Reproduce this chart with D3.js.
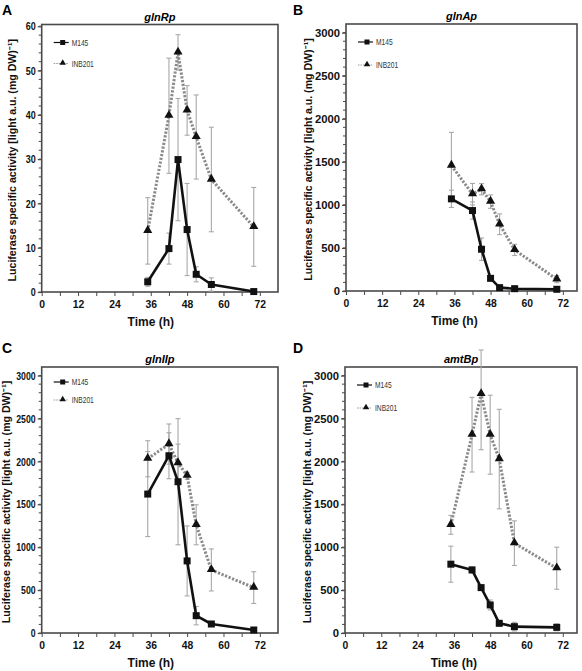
<!DOCTYPE html>
<html><head><meta charset="utf-8">
<script src="https://cdn.jsdelivr.net/npm/d3@7"></script>
<style>body{margin:0;background:#fff}svg{display:block}text{font-family:"Liberation Sans",Arial,sans-serif}</style>
</head><body><svg id="c" width="582" height="671"></svg>
<script>
const times = [35, 42, 45, 48, 51, 56, 70];
const xTicks = [0, 12, 24, 36, 48, 60, 72];
const panelLetters = ["A", "B", "C", "D"];
const panelTitles = ["glnRp", "glnAp", "glnIIp", "amtBp"];
const seriesNames = ["M145", "INB201"];
const yTicksA = [0, 10, 20, 30, 40, 50, 60];
const yTicksBCD = [0, 500, 1000, 1500, 2000, 2500, 3000];

// glnRp
const glnR_M145 = [2.3, 9.8, 29.9, 14.1, 4.0, 1.7, 0.1];
const glnR_M145_err = [1.0, 3.5, 13.8, 10.4, 1.7, 1.5, 0.3];
const glnR_INB = [13.8, 39.8, 54.1, 41.0, 35.0, 25.4, 14.7];
const glnR_INB_err = [7.5, 13.0, 4.0, 5.6, 9.5, 11.8, 8.9];
// glnAp
const glnA_M145 = [1070, 934, 485, 147, 39, 27, 20];
const glnA_M145_err = [100, 100, 130, 20, 15, 10, 10];
const glnA_INB = [1457, 1124, 1182, 1038, 775, 477, 136];
const glnA_INB_err = [385, 125, 65, 78, 120, 65, 40];
// glnIIp
const glnII_M145 = [1619, 2066, 1763, 840, 202, 105, 35];
const glnII_M145_err = [495, 268, 735, 408, 107, 15, 10];
const glnII_INB = [2031, 2202, 1981, 1833, 1261, 735, 529];
const glnII_INB_err = [210, 234, 220, 40, 233, 245, 185];
// amtBp
const amtB_M145 = [802, 735, 529, 327, 113, 74, 66];
const amtB_M145_err = [210, 35, 20, 58, 30, 50, 40];
const amtB_INB = [1261, 2311, 2786, 2311, 2027, 1047, 755];
const amtB_INB_err = [110, 435, 650, 460, 580, 260, 245];

const panels = [
  {left:41.7, top:24.5, right:278, bottom:292, xmax:78, ymax:60.4, yTicks:yTicksA, minor:2,
   m:glnR_M145, me:glnR_M145_err, i:glnR_INB, ie:glnR_INB_err, lg:[18,39], lx:0, ly:2, tx:26, ysq:0.78},
  {left:346, top:24, right:577, bottom:291, xmax:76.7, ymax:3100, yTicks:yTicksBCD, minor:100,
   m:glnA_M145, me:glnA_M145_err, i:glnA_INB, ie:glnA_INB_err, lg:[18,41], lx:291, ly:2, tx:34, ysq:0.98},
  {left:41.7, top:367, right:278, bottom:633, xmax:78, ymax:3100, yTicks:yTicksBCD, minor:100,
   m:glnII_M145, me:glnII_M145_err, i:glnII_INB, ie:glnII_INB_err, lg:[15,33], lx:0, ly:340, tx:32, ysq:0.76},
  {left:345, top:367, right:577, bottom:633, xmax:76.7, ymax:3100, yTicks:yTicksBCD, minor:100,
   m:amtB_M145, me:amtB_M145_err, i:amtB_INB, ie:amtB_INB_err, lg:[18,41], lx:291, ly:340, tx:34, ysq:0.98}
];

const svg = d3.select("#c");
const axisCol = "#4a4a4a";

function squeeze(sel, f) {
  sel.each(function () {
    const w = this.getComputedTextLength();
    if (w > 0) d3.select(this).attr("textLength", w * f).attr("lengthAdjust", "spacingAndGlyphs");
  });
}

panels.forEach((p, k) => {
  const x = d3.scaleLinear().domain([0, p.xmax]).range([p.left, p.right]);
  const y = d3.scaleLinear().domain([0, p.ymax]).range([p.bottom, p.top]);
  const g = svg.append("g");

  g.append("text").attr("x", p.lx + 2).attr("y", p.ly + 13)
    .attr("font-size", 14).attr("font-weight", "bold").text(panelLetters[k]);
  g.append("text").attr("x", (p.left + p.right) / 2).attr("y", p.top - 4)
    .attr("text-anchor", "middle").attr("font-size", 11).attr("font-weight", "bold")
    .attr("font-style", "italic").text(panelTitles[k]);

  const minorVals = d3.range(0, p.yTicks[p.yTicks.length - 1] + 1e-9, p.minor);
  g.append("g").selectAll("line").data(minorVals).join("line")
    .attr("x1", p.left - 3).attr("x2", p.left).attr("y1", d => y(d)).attr("y2", d => y(d))
    .attr("stroke", axisCol).attr("stroke-width", 1);

  const ya = g.append("g").attr("transform", `translate(${p.left},0)`)
    .call(d3.axisLeft(y).tickValues(p.yTicks).tickSize(4).tickPadding(2).tickFormat(d3.format("d")));
  ya.select(".domain").remove();
  ya.selectAll("line").attr("stroke", axisCol).attr("stroke-width", 1.2);
  ya.selectAll("text").attr("font-size", 11.5).attr("font-weight", "bold").attr("fill", "#111")
    .attr("font-family", "'Liberation Sans', Arial, sans-serif");
  squeeze(ya.selectAll("text"), p.ysq);

  const xa = g.append("g").attr("transform", `translate(0,${p.bottom})`)
    .call(d3.axisBottom(x).tickValues(d3.range(0, p.xmax, 6)).tickSize(4).tickPadding(4)
      .tickFormat(d => xTicks.includes(d) ? d : ""));
  xa.select(".domain").remove();
  xa.selectAll("line").attr("stroke", axisCol).attr("stroke-width", 1);
  xa.selectAll("text").attr("font-size", 11.5).attr("font-weight", "bold").attr("fill", "#111")
    .attr("font-family", "'Liberation Sans', Arial, sans-serif");
  squeeze(xa.selectAll("text"), 0.9);

  g.append("rect").attr("x", p.left).attr("y", p.top)
    .attr("width", p.right - p.left).attr("height", p.bottom - p.top)
    .attr("fill", "none").attr("stroke", axisCol).attr("stroke-width", 1.6);

  g.append("text").attr("transform", `translate(${p.left - p.tx},${(p.top + p.bottom) / 2 + 2}) rotate(-90)`)
    .attr("text-anchor", "middle").attr("font-size", 10.6).attr("font-weight", "bold").attr("fill", "#111")
    .text("Luciferase specific activity  [light a.u. (mg DW)\u207B\u00B9]");
  g.append("text").attr("x", (x(0) + x(72)) / 2).attr("y", p.bottom + 34)
    .attr("text-anchor", "middle").attr("font-size", 12).attr("font-weight", "bold").attr("fill", "#111")
    .text("Time (h)");

  const clipTop = p.top - 17;
  const drawErr = (vals, errs) => {
    const eg = g.append("g").attr("stroke", "#a8a8a8").attr("stroke-width", 1.1).attr("fill", "none");
    times.forEach((t, j) => {
      const cx = x(t), hi = Math.max(y(vals[j] + errs[j]), clipTop), lo = y(Math.max(vals[j] - errs[j], 0));
      eg.append("line").attr("x1", cx).attr("x2", cx).attr("y1", hi).attr("y2", lo);
      eg.append("line").attr("x1", cx - 2.5).attr("x2", cx + 2.5).attr("y1", hi).attr("y2", hi);
      eg.append("line").attr("x1", cx - 2.5).attr("x2", cx + 2.5).attr("y1", lo).attr("y2", lo);
    });
  };
  drawErr(p.m, p.me);
  drawErr(p.i, p.ie);

  const line = d3.line().x((d, j) => x(times[j])).y(d => y(d));
  g.append("path").datum(p.i).attr("d", line).attr("fill", "none")
    .attr("stroke", "#8a8a8a").attr("stroke-width", 3).attr("stroke-dasharray", "2.2,1.6");
  g.append("path").datum(p.m).attr("d", line).attr("fill", "none")
    .attr("stroke", "#111").attr("stroke-width", 2.6).attr("stroke-linejoin", "round");

  const tri = d3.symbol().type(d3.symbolTriangle).size(36);
  g.append("g").selectAll("path").data(p.i).join("path")
    .attr("d", tri).attr("transform", (d, j) => `translate(${x(times[j])},${y(d) - 0.5})`).attr("fill", "#111");
  g.append("g").selectAll("rect").data(p.m).join("rect")
    .attr("x", (d, j) => x(times[j]) - 3.5).attr("y", d => y(d) - 3.5)
    .attr("width", 7).attr("height", 7).attr("fill", "#111");

  const lx0 = p.left + 12, lx1 = p.left + 27, mx = p.left + 21;
  const ly1 = p.top + p.lg[0], ly2 = p.top + p.lg[1];
  g.append("line").attr("x1", lx0).attr("x2", lx1).attr("y1", ly1).attr("y2", ly1)
    .attr("stroke", "#111").attr("stroke-width", 1.2);
  g.append("rect").attr("x", mx - 2.5).attr("y", ly1 - 2.5).attr("width", 5).attr("height", 5).attr("fill", "#111");
  const t1 = g.append("text").attr("x", lx1 + 3).attr("y", ly1 + 3).attr("font-size", 8.5).attr("fill", "#333").text(seriesNames[0]);
  g.append("line").attr("x1", lx0).attr("x2", lx1).attr("y1", ly2).attr("y2", ly2)
    .attr("stroke", "#999").attr("stroke-width", 1).attr("stroke-dasharray", "1.5,1");
  g.append("path").attr("d", d3.symbol().type(d3.symbolTriangle).size(18))
    .attr("transform", `translate(${mx},${ly2 - 0.5})`).attr("fill", "#111");
  const t2 = g.append("text").attr("x", lx1 + 3).attr("y", ly2 + 3).attr("font-size", 8.5).attr("fill", "#333").text(seriesNames[1]);
  squeeze(t1, 0.78);
  squeeze(t2, 0.78);
});
</script></body></html>
